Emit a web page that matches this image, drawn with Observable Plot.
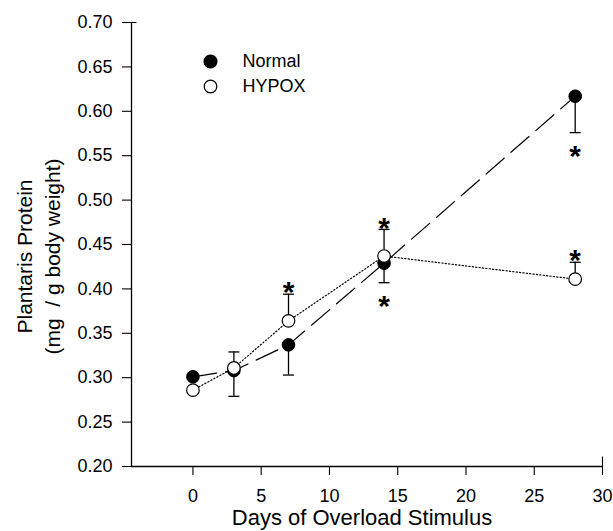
<!DOCTYPE html>
<html><head><meta charset="utf-8">
<script src="https://cdn.jsdelivr.net/npm/d3@7"></script>
<script src="https://cdn.jsdelivr.net/npm/@observablehq/plot@0.6"></script>
<style>body{margin:0;background:#fff} svg{display:block}</style>
</head><body><div id="chart"></div>
<script>
// ---- data ----
const days = [0, 3, 7, 14, 28];
const normal = [0.301, 0.308, 0.337, 0.429, 0.617];
const normalErrLow = [null, 0.279, 0.303, 0.407, 0.576];
const hypox = [0.286, 0.311, 0.364, 0.437, 0.411];
const hypoxErrHigh = [null, 0.329, 0.394, 0.467, 0.430];
const hypoxStarDays = [7, 14, 28];   // significance above HYPOX bars
const normalStarDays = [14, 28];     // significance below Normal bars
const seriesNames = ["Normal", "HYPOX"];
const xTicks = [0, 5, 10, 15, 20, 25, 30];
const yTicks = [0.20, 0.25, 0.30, 0.35, 0.40, 0.45, 0.50, 0.55, 0.60, 0.65, 0.70];
const xDomain = [-4.5, 30];
const yDomain = [0.20, 0.70];
const xLabel = "Days of Overload Stimulus";
const yLabel = "Plantaris Protein\n(mg\u00a0 / g body weight)";

// ---- tables ----
const normalRows = days.map((d, i) => ({day: d, value: normal[i], err: normalErrLow[i]}));
const hypoxRows = days.map((d, i) => ({day: d, value: hypox[i], err: hypoxErrHigh[i]}));
const normalErrRows = normalRows.filter(r => r.err != null);
const hypoxErrRows = hypoxRows.filter(r => r.err != null);
const hypoxStars = hypoxRows.filter(r => hypoxStarDays.includes(r.day));
const normalStars = normalRows.filter(r => normalStarDays.includes(r.day));

const rad = s => Math.sqrt(s / Math.PI);
const hCap = {draw(ctx, size) { const r = rad(size); ctx.moveTo(-r, 0); ctx.lineTo(r, 0); }};
const hRight = {draw(ctx, size) { const r = rad(size); ctx.moveTo(0, 0); ctx.lineTo(r, 0); }};
const vUp = {draw(ctx, size) { const r = rad(size); ctx.moveTo(0, 0); ctx.lineTo(0, -r); }};

const font = "'Liberation Sans', Arial, Helvetica, sans-serif";

const chart = Plot.plot({
  width: 613,
  height: 531,
  marginLeft: 131,
  marginRight: 11,
  marginTop: 22,
  marginBottom: 65,
  style: {fontFamily: font, fontSize: "18px", color: "black", background: "white"},
  x: {domain: xDomain},
  y: {domain: yDomain},
  marks: [
    // axes
    Plot.ruleX([xDomain[0]], {y1: yDomain[0], y2: yDomain[1], stroke: "black", strokeWidth: 1.3}),
    Plot.ruleY([yDomain[0]], {x1: xDomain[0], x2: xDomain[1], stroke: "black", strokeWidth: 1.3}),
    Plot.axisY({ticks: yTicks, tickFormat: d3.format(".2f"), tickSize: 9, tickPadding: 10,
      fontSize: 18, stroke: "black", strokeWidth: 1.1, label: null}),
    Plot.axisX({ticks: xTicks, tickFormat: d => d, tickSize: 9, tickPadding: 14,
      fontSize: 18, stroke: "black", strokeWidth: 1.1, label: null}),
    Plot.dot([yDomain[1]], {x: xDomain[0], y: d => d, symbol: hRight, r: 5, stroke: "black", strokeWidth: 1.1}),
    Plot.dot([xDomain[1]], {x: d => d, y: yDomain[0], symbol: vUp, r: 10, stroke: "black", strokeWidth: 1.1}),
    // axis titles
    Plot.text([yLabel], {frameAnchor: "left", dx: -94, dy: 12, rotate: -90, fontSize: 21, lineHeight: 1.333,
      lineAnchor: "middle", textAnchor: "middle", fill: "black"}),
    Plot.text([xLabel], {frameAnchor: "bottom", dy: 51, dx: -5, fontSize: 22,
      lineAnchor: "middle", textAnchor: "middle", fill: "black"}),
    // lines
    Plot.line(normalRows, {x: "day", y: "value", stroke: "black", strokeWidth: 1.2, strokeDasharray: "24,9"}),
    Plot.line(hypoxRows, {x: "day", y: "value", stroke: "black", strokeWidth: 1.2, strokeDasharray: "1.2,2.2"}),
    // error bars
    Plot.ruleX(normalErrRows, {x: "day", y1: "value", y2: "err", stroke: "black", strokeWidth: 1.3}),
    Plot.ruleX(hypoxErrRows, {x: "day", y1: "value", y2: "err", stroke: "black", strokeWidth: 1.3}),
    Plot.dot(normalErrRows, {x: "day", y: "err", symbol: hCap, r: 5.5, stroke: "black", strokeWidth: 1.3}),
    Plot.dot(hypoxErrRows, {x: "day", y: "err", symbol: hCap, r: 5.5, stroke: "black", strokeWidth: 1.3}),
    // points
    Plot.dot(normalRows, {x: "day", y: "value", r: 6.3, fill: "black", stroke: "black", strokeWidth: 1}),
    Plot.dot(hypoxRows, {x: "day", y: "value", r: 6.3, fill: "white", stroke: "black", strokeWidth: 1.2}),
    // significance stars
    Plot.text(hypoxStars, {x: "day", y: "err", text: () => "*", dy: -1.5, fontSize: 30, fontWeight: "bold",
      lineAnchor: "middle", fill: "black"}),
    Plot.text(normalStars, {x: "day", y: "err", text: () => "*", dy: 23.5, fontSize: 30, fontWeight: "bold",
      lineAnchor: "middle", fill: "black"}),
    // legend
    Plot.dot([seriesNames[0]], {frameAnchor: "top-left", dx: 79, dy: 39, r: 6.3, fill: "black", stroke: "black"}),
    Plot.dot([seriesNames[1]], {frameAnchor: "top-left", dx: 79, dy: 64, r: 6.3, fill: "white", stroke: "black", strokeWidth: 1.2}),
    Plot.text([seriesNames[0]], {frameAnchor: "top-left", dx: 111, dy: 39, text: d => d, fontSize: 18,
      textAnchor: "start", lineAnchor: "middle", fill: "black"}),
    Plot.text([seriesNames[1]], {frameAnchor: "top-left", dx: 111, dy: 64, text: d => d, fontSize: 18,
      textAnchor: "start", lineAnchor: "middle", fill: "black"})
  ]
});
document.getElementById("chart").appendChild(chart);
</script>
</body></html>
